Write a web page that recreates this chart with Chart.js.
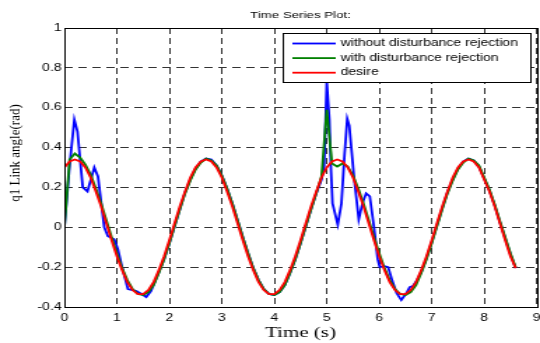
<!DOCTYPE html>
<html>
<head>
<meta charset="utf-8">
<script src="https://cdn.jsdelivr.net/npm/chart.js@4.4.1/dist/chart.umd.min.js"></script>
<style>
  html, body { margin: 0; padding: 0; background: #fff; }
  /* the original figure is a horizontally stretched export, so draw narrow and stretch */
  #wrap { width: 386px; height: 343px; transform: scaleX(1.399); transform-origin: 0 0; }
</style>
</head>
<body>
<div id="wrap"><canvas id="plot" width="386" height="343"></canvas></div>
<script>
const STRETCH = 1.399;

const xTicks = [0, 1, 2, 3, 4, 5, 6, 7, 8, 9];
const yTicks = [-0.4, -0.2, 0, 0.2, 0.4, 0.6, 0.8, 1];

const seriesLabels = ["without disturbance rejection", "with disturbance rejection", "desire"];
const seriesColors = ["#0000ff", "#008000", "#ff0000"];

const timeGrid = [
  0, 0.1, 0.2, 0.3, 0.4, 0.5, 0.6, 0.7, 0.8, 0.9,
  1.0, 1.1, 1.2, 1.3, 1.4, 1.5, 1.6, 1.7, 1.8, 1.9,
  2.0, 2.1, 2.2, 2.3, 2.4, 2.5, 2.6, 2.7, 2.8, 2.9,
  3.0, 3.1, 3.2, 3.3, 3.4, 3.5, 3.6, 3.7, 3.8, 3.9,
  4.0, 4.1, 4.2, 4.3, 4.4, 4.5, 4.6, 4.7, 4.8, 4.9,
  5.0, 5.1, 5.2, 5.3, 5.4, 5.5, 5.6, 5.7, 5.8, 5.9,
  6.0, 6.1, 6.2, 6.3, 6.4, 6.5, 6.6, 6.7, 6.8, 6.9,
  7.0, 7.1, 7.2, 7.3, 7.4, 7.5, 7.6, 7.7, 7.8, 7.9,
  8.0, 8.1, 8.2, 8.3, 8.4, 8.5, 8.6
];

const desire = [
  0.30, 0.33, 0.34, 0.33, 0.30, 0.25, 0.18, 0.105, 0.02, -0.065,
  -0.145, -0.215, -0.275, -0.315, -0.335, -0.335, -0.315, -0.275, -0.215, -0.145,
  -0.065, 0.02, 0.105, 0.18, 0.25, 0.30, 0.33, 0.34, 0.33, 0.30,
  0.25, 0.18, 0.105, 0.02, -0.065, -0.145, -0.215, -0.275, -0.315, -0.335,
  -0.335, -0.315, -0.275, -0.215, -0.145, -0.065, 0.02, 0.105, 0.18, 0.25,
  0.30, 0.33, 0.34, 0.33, 0.30, 0.25, 0.18, 0.105, 0.02, -0.065,
  -0.145, -0.215, -0.275, -0.315, -0.335, -0.335, -0.315, -0.275, -0.215, -0.145,
  -0.065, 0.02, 0.105, 0.18, 0.25, 0.30, 0.33, 0.34, 0.33, 0.30,
  0.24, 0.18, 0.105, 0.02, -0.065, -0.145, -0.205
];

const withRejection = [
  0.0, 0.34, 0.37, 0.35, 0.315, 0.265, 0.195, 0.12, 0.035, -0.05,
  -0.13, -0.205, -0.265, -0.31, -0.335, -0.34, -0.325, -0.29, -0.23, -0.16,
  -0.08, 0.005, 0.09, 0.17, 0.235, 0.29, 0.325, 0.345, 0.335, 0.31,
  0.26, 0.195, 0.12, 0.035, -0.05, -0.13, -0.205, -0.265, -0.31, -0.335,
  -0.34, -0.325, -0.29, -0.23, -0.16, -0.08, 0.005, 0.09, 0.17, 0.255,
  0.59, 0.32, 0.305, 0.32, 0.305, 0.26, 0.195, 0.12, 0.035, -0.05,
  -0.13, -0.205, -0.265, -0.31, -0.335, -0.34, -0.325, -0.29, -0.23, -0.16,
  -0.08, 0.005, 0.09, 0.17, 0.235, 0.29, 0.325, 0.345, 0.335, 0.31,
  0.25, 0.19, 0.115, 0.03, -0.05, -0.13, -0.2
];

// the blue trace is sampled unevenly where it oscillates
const withoutTime = [
  0, 0.1, 0.19, 0.25, 0.35, 0.44, 0.57, 0.64, 0.76, 0.83,
  0.95, 1.02, 1.1, 1.21, 1.3, 1.37, 1.47, 1.56, 1.65, 1.8,
  1.9, 2.0, 2.1, 2.2, 2.3, 2.4, 2.5, 2.6, 2.7, 2.8,
  2.9, 3.0, 3.1, 3.2, 3.3, 3.4, 3.5, 3.6, 3.7, 3.8,
  3.9, 4.0, 4.1, 4.2, 4.3, 4.4, 4.5, 4.6, 4.7, 4.8,
  4.9, 4.95, 5.0, 5.05, 5.08, 5.11, 5.21, 5.28, 5.34, 5.39,
  5.43, 5.52, 5.61, 5.68, 5.75, 5.82, 5.9, 5.97, 6.01, 6.1,
  6.17, 6.25, 6.33, 6.42, 6.52, 6.58, 6.64, 6.72, 6.8, 6.9,
  7.0, 7.1, 7.2, 7.3, 7.4, 7.5, 7.6, 7.7, 7.8, 7.9,
  8.0, 8.1, 8.2, 8.3, 8.4, 8.5, 8.6
];

const withoutRejection = [
  0, 0.31, 0.54, 0.48, 0.20, 0.18, 0.30, 0.255, 0.0, -0.045,
  -0.06, -0.11, -0.2, -0.31, -0.315, -0.32, -0.335, -0.35, -0.32, -0.225,
  -0.16, -0.08, 0.005, 0.09, 0.175, 0.24, 0.295, 0.33, 0.345, 0.34,
  0.31, 0.26, 0.195, 0.12, 0.035, -0.05, -0.13, -0.205, -0.265, -0.31,
  -0.335, -0.34, -0.325, -0.29, -0.23, -0.16, -0.08, 0.005, 0.09, 0.17,
  0.24, 0.30, 0.73, 0.54, 0.29, 0.12, 0.013, 0.12, 0.37, 0.545,
  0.51, 0.25, 0.04, 0.12, 0.17, 0.155, 0.0, -0.16, -0.2, -0.195,
  -0.2, -0.27, -0.33, -0.365, -0.33, -0.3, -0.295, -0.265, -0.225, -0.155,
  -0.075, 0.01, 0.095, 0.175, 0.24, 0.295, 0.33, 0.345, 0.335, 0.305,
  0.245, 0.185, 0.11, 0.025, -0.055, -0.135, -0.205
];

const toPoints = (xs, ys) => xs.map((x, i) => ({ x: x, y: ys[i] }));

// titles, box and legend, drawn the way the matlab figure has them
const figureDecor = {
  id: "figureDecor",
  afterDraw(chart) {
    const { ctx, chartArea: a } = chart;
    const cx = (a.left + a.right) / 2;
    ctx.save();
    ctx.strokeStyle = "#000";
    ctx.lineWidth = 1;
    ctx.strokeRect(Math.round(a.left) + 0.5, Math.round(a.top) + 0.5,
      Math.round(a.right - a.left), Math.round(a.bottom - a.top));

    ctx.fillStyle = "#000";
    ctx.textAlign = "center";
    ctx.textBaseline = "middle";
    ctx.font = '9.5px "Liberation Sans", Arial, sans-serif';
    ctx.fillText("Time Series Plot:", cx, 15);

    ctx.font = '15px "Liberation Serif", "Times New Roman", serif';
    ctx.fillText("Time (s)", cx, 333);

    ctx.save();
    ctx.translate(11.5, 153);
    ctx.scale(0.85, 1);
    ctx.rotate(-Math.PI / 2);
    ctx.font = '13px "Liberation Serif", "Times New Roman", serif';
    ctx.fillText("q1 Link angle(rad)", 0, 0);
    ctx.restore();

    // legend box
    const box = { x: 202.5, y: 33.5, w: 177, h: 49 };
    ctx.fillStyle = "#fff";
    ctx.fillRect(box.x, box.y, box.w, box.h);
    ctx.strokeRect(box.x, box.y, box.w, box.h);
    ctx.textAlign = "left";
    ctx.font = '10px "Liberation Sans", Arial, sans-serif';
    seriesLabels.forEach((label, i) => {
      const y = 43.5 + i * 14.6;
      ctx.strokeStyle = seriesColors[i];
      ctx.lineWidth = 1.8;
      ctx.beginPath();
      ctx.moveTo(209, y);
      ctx.lineTo(240, y);
      ctx.stroke();
      ctx.fillStyle = "#000";
      ctx.fillText(label, 243.5, y);
    });
    ctx.restore();
  }
};

const gridOpts = { color: "#333", lineWidth: 1, drawTicks: false };
const tickFont = { family: '"Liberation Sans", Arial, sans-serif', size: 10 };

new Chart(document.getElementById("plot").getContext("2d"), {
  type: "line",
  data: {
    datasets: [
      {
        label: seriesLabels[2],
        data: toPoints(timeGrid, desire),
        borderColor: seriesColors[2],
        borderWidth: 1.8,
      },
      {
        label: seriesLabels[1],
        data: toPoints(timeGrid, withRejection),
        borderColor: seriesColors[1],
        borderWidth: 1.8,
      },
      {
        label: seriesLabels[0],
        data: toPoints(withoutTime, withoutRejection),
        borderColor: seriesColors[0],
        borderWidth: 1.8,
      },
    ],
  },
  options: {
    responsive: false,
    animation: false,
    layout: { padding: { top: 28, right: 2.4, left: 0, bottom: 0 } },
    elements: {
      point: { radius: 0, hoverRadius: 0 },
      line: { tension: 0, fill: false },
    },
    scales: {
      x: {
        type: "linear",
        min: 0,
        max: 9,
        afterBuildTicks: (s) => { s.ticks = xTicks.map((v) => ({ value: v })); },
        afterFit: (s) => {
          s.height = 36;
          s.paddingLeft = 0;
          s.paddingRight = 0;
        },
        grid: gridOpts,
        border: { display: false, dash: [6, 4] },
        ticks: { color: "#000", font: tickFont, padding: 5, maxRotation: 0, autoSkip: false },
      },
      y: {
        type: "linear",
        min: -0.4,
        max: 1,
        afterBuildTicks: (s) => { s.ticks = yTicks.map((v) => ({ value: v })); },
        afterFit: (s) => { s.width = 46; },
        grid: gridOpts,
        border: { display: false, dash: [6, 4] },
        ticks: {
          color: "#000",
          font: tickFont,
          padding: 2,
          callback: (v) => String(Math.round(v * 10) / 10),
        },
      },
    },
    plugins: {
      legend: { display: false },
      tooltip: { enabled: false },
    },
  },
  plugins: [figureDecor],
});
</script>
</body>
</html>
